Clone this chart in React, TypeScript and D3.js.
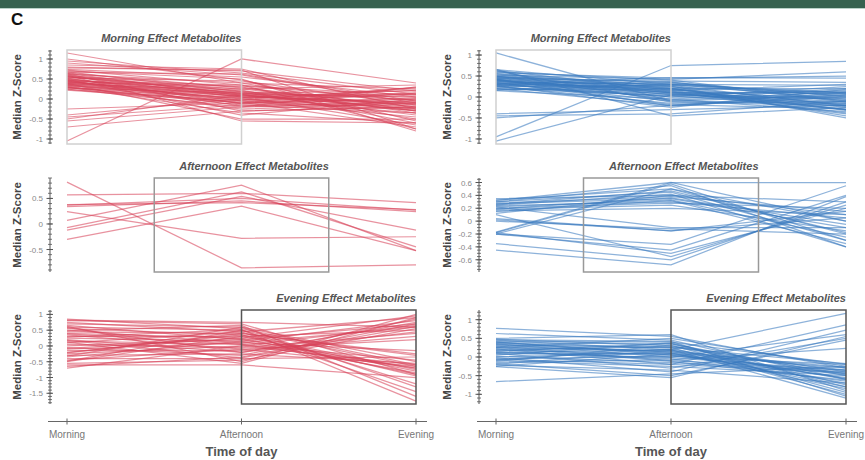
import React from 'react';
import * as d3 from 'd3';

// time points on the x axis
const times = ['Morning', 'Afternoon', 'Evening'];

// each row: median z-score at [Morning, Afternoon, Evening]
const morningRed = [
  [0.72, 0.35, -0.05], [0.65, 0.28, -0.2], [0.6, 0.12, 0.1], [0.55, 0.2, -0.3],
  [0.5, 0.05, -0.1], [0.48, 0.15, 0.2], [0.45, -0.05, -0.45], [0.42, 0.1, 0.05],
  [0.4, 0.0, -0.25], [0.38, 0.22, -0.6], [0.35, -0.1, 0.3], [0.33, 0.08, -0.15],
  [0.3, -0.15, -0.35], [0.28, 0.02, 0.15], [0.25, -0.2, -0.05], [0.22, -0.08, -0.7],
  [0.58, 0.3, -0.35], [0.62, 0.4, 0.25], [0.68, 0.18, -0.5], [0.52, -0.12, 0.0],
  [0.46, 0.25, -0.2], [0.44, -0.02, 0.28], [0.36, 0.12, -0.4], [0.32, -0.25, -0.1],
  [0.57, 0.05, -0.65], [0.41, 0.32, 0.1], [0.27, 0.15, -0.3], [0.53, 0.45, -0.15],
  [0.74, 0.55, 0.05], [0.8, 0.7, 0.2], [0.85, 0.75, -0.25], [0.9, 0.6, -0.1],
  [0.95, 0.65, 0.12], [1.0, 0.48, -0.55], [1.15, 0.4, -0.3], [0.78, 0.72, -0.75],
  [0.7, 0.5, -0.8], [0.63, -0.3, -0.2], [0.49, -0.4, 0.0], [0.39, -0.5, -0.5],
  [0.6, -0.55, -0.6], [-1.05, 1.0, 0.4], [-0.25, -0.1, 0.15], [-0.4, 0.0, -0.35],
  [-0.45, -0.15, -0.1], [-0.5, 0.1, -0.25], [-0.55, -0.2, 0.3], [-0.7, -0.3, -0.2],
  [0.3, -0.35, -0.6], [0.55, 0.25, 0.35], [0.45, 0.35, -0.75], [0.67, 0.62, -0.05],
  [0.43, 0.06, -0.08], [0.37, -0.04, 0.12], [0.51, 0.1, -0.22], [0.29, -0.1, 0.02],
  [0.47, -0.18, -0.15], [0.34, 0.03, 0.22], [0.56, 0.14, 0.05], [0.24, -0.05, -0.28],
  [0.64, 0.08, -0.12], [0.39, 0.18, -0.02],
];

const morningBlue = [
  [0.65, 0.3, 0.1], [0.6, 0.4, -0.1], [0.55, 0.2, 0.2], [0.5, 0.1, -0.3],
  [0.48, 0.35, 0.0], [0.45, 0.05, 0.15], [0.42, 0.25, -0.2], [0.4, -0.05, -0.35],
  [0.38, 0.15, 0.3], [0.36, 0.3, -0.05], [0.34, -0.1, 0.05], [0.32, 0.2, -0.25],
  [0.3, 0.0, 0.25], [0.28, 0.12, -0.4], [0.26, -0.15, -0.1], [0.25, 0.28, 0.1],
  [0.22, 0.08, -0.15], [0.2, -0.2, 0.0], [0.18, 0.18, -0.3], [0.15, -0.05, 0.2],
  [0.58, 0.45, 0.5], [0.52, 0.42, 0.6], [0.44, 0.38, 0.35], [0.62, -0.12, -0.2],
  [0.47, 0.22, -0.45], [0.41, 0.1, 0.08], [0.35, -0.18, -0.28], [0.29, 0.33, 0.02],
  [0.24, 0.02, -0.22], [0.56, 0.26, -0.5], [0.5, -0.08, 0.12], [0.4, 0.14, -0.38],
  [0.33, 0.36, -0.12], [0.27, -0.25, 0.18], [0.2, 0.04, -0.05], [0.16, 0.3, 0.28],
  [0.63, 0.16, -0.32], [0.43, -0.22, 0.04], [1.05, -0.1, -0.15], [-0.95, 0.75, 0.85],
  [-1.05, 0.05, 0.0], [-0.4, -0.3, -0.2], [-0.45, -0.4, -0.1], [-0.5, -0.2, 0.1],
  [0.66, -0.45, -0.25], [0.3, 0.46, 0.45],
  [0.46, 0.18, -0.08], [0.37, 0.06, -0.18], [0.31, 0.24, 0.06], [0.53, 0.12, -0.12],
  [0.42, 0.0, -0.02], [0.28, 0.2, -0.3], [0.39, 0.1, 0.12], [0.49, 0.28, -0.22],
];

const afternoonRed = [
  [0.82, -0.86, -0.8], [0.57, 0.6, 0.42], [0.37, 0.5, 0.27], [0.34, 0.45, 0.24],
  [0.24, -0.28, -0.25], [0.07, 0.76, -0.52], [-0.07, 0.63, -0.45], [-0.12, 0.54, -0.12],
  [-0.3, 0.35, -0.52], [0.38, 0.42, 0.28],
];

const afternoonBlue = [
  [0.35, 0.4, 0.1], [0.33, 0.5, -0.2], [0.32, 0.6, 0.0], [0.3, 0.45, -0.3],
  [0.28, 0.38, 0.15], [0.27, 0.35, -0.1], [0.25, 0.42, -0.4], [0.24, 0.3, 0.05],
  [0.22, 0.33, -0.25], [0.2, 0.28, 0.2], [0.19, 0.36, -0.05], [0.18, 0.25, -0.15],
  [0.16, 0.2, 0.1], [0.15, 0.32, -0.35], [0.12, 0.4, 0.3], [0.3, 0.55, -0.4],
  [0.26, 0.47, -0.18], [-0.17, 0.6, 0.6], [-0.18, 0.58, -0.3], [-0.2, 0.5, 0.0],
  [0.02, -0.15, 0.05], [0.0, -0.12, -0.2], [0.04, -0.15, 0.15], [0.22, -0.1, -0.1],
  [-0.2, -0.36, 0.55], [-0.2, -0.45, 0.4], [-0.35, -0.6, 0.3], [-0.45, -0.68, 0.38],
  [-0.18, -0.5, 0.2], [0.1, -0.55, 0.25],
];

const eveningRed = [
  [0.85, 0.55, -0.6], [0.8, 0.7, -0.9], [0.75, 0.45, 0.9], [0.7, 0.6, -0.5],
  [0.65, 0.2, 0.7], [0.6, 0.5, -1.2], [0.55, 0.35, -0.75], [0.5, 0.1, 0.6],
  [0.45, 0.4, -0.3], [0.4, 0.25, 0.95], [0.35, -0.1, -0.65], [0.3, 0.3, 0.5],
  [0.25, 0.15, -0.85], [0.2, -0.2, 0.75], [0.15, 0.05, -0.45], [0.1, 0.45, -1.45],
  [0.05, -0.05, 0.4], [0.0, 0.2, -0.7], [-0.05, -0.3, 0.85], [-0.1, 0.1, -0.15],
  [-0.15, -0.15, 0.3], [-0.2, 0.35, -0.95], [-0.25, 0.0, 0.65], [-0.3, -0.25, -0.55],
  [-0.35, 0.15, 0.8], [-0.4, -0.4, -0.35], [-0.45, -0.1, 0.2], [-0.5, 0.3, -0.8],
  [-0.55, -0.45, 0.55], [-0.6, -0.6, -1.0], [-0.65, -0.35, 0.7], [-0.7, 0.0, -0.6],
  [0.82, 0.75, 0.6], [0.62, -0.5, 1.0], [0.48, 0.65, -1.6], [0.28, 0.52, -1.75],
  [-0.32, 0.6, -1.3], [0.12, -0.55, 0.9], [-0.22, 0.4, -0.25], [0.38, 0.05, -0.7],
  [0.58, -0.2, 0.45], [-0.08, 0.25, -0.9], [0.18, -0.38, 0.62], [-0.48, 0.5, -0.65],
];

const eveningBlue = [
  [0.77, 0.55, -0.3], [0.63, 0.45, -0.6], [0.5, 0.6, -0.9], [0.48, 0.3, -0.4],
  [0.45, 0.2, 1.17], [0.42, 0.4, -0.2], [0.4, 0.1, -0.7], [0.38, 0.35, -0.5],
  [0.35, 0.0, 0.6], [0.32, 0.25, -1.0], [0.3, -0.1, -0.35], [0.28, 0.15, -0.8],
  [0.25, 0.5, -0.25], [0.22, -0.2, 0.86], [0.2, 0.05, -0.55], [0.18, 0.28, -0.45],
  [0.15, -0.05, -0.65], [0.12, 0.2, -1.1], [0.1, -0.3, 0.5], [0.08, 0.1, -0.3],
  [0.05, 0.38, -0.75], [0.02, -0.15, -0.4], [0.0, 0.12, -0.85], [-0.02, -0.4, 0.72],
  [-0.05, 0.02, -0.2], [-0.08, 0.22, -0.6], [-0.1, -0.25, -0.5], [-0.12, 0.32, -0.95],
  [-0.15, -0.08, 0.23], [-0.18, -0.5, 0.45], [-0.2, 0.18, -0.35], [-0.22, -0.35, -0.7],
  [-0.25, 0.08, -0.45], [-0.26, -0.55, 0.55], [-0.66, -0.45, -0.25], [0.46, 0.42, -1.05],
  [0.36, 0.26, -0.18], [0.26, -0.12, -0.62], [0.16, 0.36, -0.8], [-0.06, -0.2, -0.42],
  [0.33, 0.14, -0.28], [0.4, 0.05, -0.48], [0.24, 0.18, -0.58], [0.12, -0.02, -0.36],
];

// labelled y ticks per panel
const ticksTop = [-1, -0.5, 0, 0.5, 1];
const ticksMidLeft = [-0.5, 0, 0.5];
const ticksMidRight = [-0.6, -0.4, -0.2, 0, 0.2, 0.4, 0.6];
const ticksBotLeft = [-1.5, -1, -0.5, 0, 0.5, 1];
const ticksBotRight = [-1, -0.5, 0, 0.5, 1];

const RED = '#d8435a';
const BLUE = '#3a7bbf';
const FONT = 'Liberation Sans, Arial, Helvetica, sans-serif';

type PanelProps = {
  rows: number[][];
  color: string;
  col: number; // 0 left, 1 right
  top: number;
  bottom: number;
  domain: [number, number];
  ticks: number[];
  minor: number;
  title: string;
  box: [number, number]; // in time-index units
  boxStroke: string;
};

const cols = [
  { axisX: 50, x0: 67, x1: 416, labelX: 17 },
  { axisX: 479, x0: 496, x1: 846, labelX: 447 },
];

function Panel({ rows, color, col, top, bottom, domain, ticks, minor, title, box, boxStroke }: PanelProps) {
  const c = cols[col];
  const x = d3.scalePoint<string>().domain(times).range([c.x0, c.x1]);
  const y = d3.scaleLinear().domain(domain).range([bottom, top]);
  const line = d3.line<number>().x((_, i) => x(times[i]) as number).y(d => y(d));
  const minorTicks = d3
    .range(Math.ceil(domain[0] / minor), Math.floor(domain[1] / minor) + 1)
    .map(k => k * minor);
  const step = (c.x1 - c.x0) / 2;
  const bx0 = c.x0 + step * box[0];
  const bx1 = c.x0 + step * box[1];

  return (
    <g>
      {rows.map((r, i) => (
        <path key={i} d={line(r) || ''} fill="none" stroke={color}
          strokeOpacity={0.58} strokeWidth={1.25} />
      ))}
      <rect x={bx0} y={top} width={bx1 - bx0} height={bottom - top}
        fill="none" stroke={boxStroke} strokeWidth={1.5} />
      <text x={bx1} y={top - 8} textAnchor="end" fontFamily={FONT} fontSize={11}
        fontWeight="bold" fontStyle="italic" fill="#555">{title}</text>

      {/* y axis */}
      <line x1={c.axisX} x2={c.axisX} y1={top} y2={bottom} stroke="#555" strokeWidth={1} />
      {minorTicks.map((t, i) => (
        <line key={i} x1={c.axisX - 2} x2={c.axisX + 2} y1={y(t)} y2={y(t)} stroke="#555" strokeWidth={0.8} />
      ))}
      {ticks.map(t => (
        <g key={t}>
          <line x1={c.axisX - 3.5} x2={c.axisX + 3} y1={y(t)} y2={y(t)} stroke="#555" strokeWidth={1} />
          <text x={c.axisX - 7} y={y(t) + 3} textAnchor="end" fontFamily={FONT}
            fontSize={8} fill="#888">{String(t)}</text>
        </g>
      ))}
      <text transform={`translate(${c.labelX},${(top + bottom) / 2}) rotate(-90)`}
        textAnchor="middle" dy="0.35em" fontFamily={FONT} fontSize={11.5}
        fontWeight="bold" fill="#444">Median Z-Score</text>
    </g>
  );
}

function XAxis({ col }: { col: number }) {
  const c = cols[col];
  const x = d3.scalePoint<string>().domain(times).range([c.x0, c.x1]);
  const yAxis = 421.5;
  return (
    <g>
      <line x1={c.axisX - 2} x2={c.x1 + 11} y1={yAxis} y2={yAxis} stroke="#666" strokeWidth={1} />
      {times.map(t => (
        <g key={t}>
          <line x1={x(t)} x2={x(t)} y1={yAxis - 3} y2={yAxis + 3} stroke="#666" strokeWidth={1} />
          <text x={x(t)} y={438} textAnchor="middle" fontFamily={FONT} fontSize={10} fill="#777">{t}</text>
        </g>
      ))}
      <text x={x('Afternoon')} y={456} textAnchor="middle" fontFamily={FONT} fontSize={13}
        fontWeight="bold" fill="#555">Time of day</text>
    </g>
  );
}

export default function App() {
  return (
    <svg width={865} height={460} style={{ position: 'absolute', left: 0, top: 0, background: '#fff' }}>
      <rect x={0} y={0} width={865} height={8} fill="#36624f" />
      <line x1={0} x2={865} y1={8.5} y2={8.5} stroke="#b9d3c8" strokeWidth={1} />
      <text x={11} y={25} fontFamily={FONT} fontSize={17} fontWeight="bold" fill="#111">C</text>

      <Panel rows={morningRed} color={RED} col={0} top={50} bottom={144} domain={[-1.125, 1.225]}
        ticks={ticksTop} minor={0.1} title="Morning Effect Metabolites" box={[0, 1]} boxStroke="#d0d0d0" />
      <Panel rows={morningBlue} color={BLUE} col={1} top={50} bottom={144} domain={[-1.12, 1.12]}
        ticks={ticksTop} minor={0.1} title="Morning Effect Metabolites" box={[0, 1]} boxStroke="#d0d0d0" />

      <Panel rows={afternoonRed} color={RED} col={0} top={178} bottom={272} domain={[-0.94, 0.9]}
        ticks={ticksMidLeft} minor={0.1} title="Afternoon Effect Metabolites" box={[0.5, 1.5]} boxStroke="#999" />
      <Panel rows={afternoonBlue} color={BLUE} col={1} top={178} bottom={272} domain={[-0.79, 0.67]}
        ticks={ticksMidRight} minor={0.05} title="Afternoon Effect Metabolites" box={[0.5, 1.5]} boxStroke="#999" />

      <Panel rows={eveningRed} color={RED} col={0} top={310} bottom={404} domain={[-1.84, 1.14]}
        ticks={ticksBotLeft} minor={0.1} title="Evening Effect Metabolites" box={[1, 2]} boxStroke="#555" />
      <Panel rows={eveningBlue} color={BLUE} col={1} top={310} bottom={404} domain={[-1.26, 1.26]}
        ticks={ticksBotRight} minor={0.1} title="Evening Effect Metabolites" box={[1, 2]} boxStroke="#555" />

      <XAxis col={0} />
      <XAxis col={1} />
    </svg>
  );
}
